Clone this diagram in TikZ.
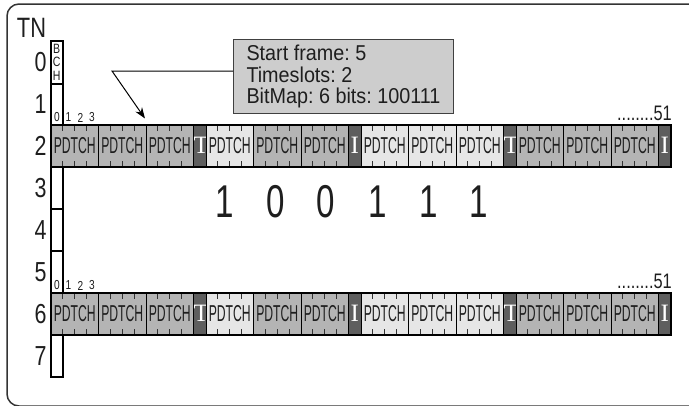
\documentclass[tikz,border=0pt]{standalone}
\usepackage{fontspec}
\setmainfont{Liberation Sans}
\newfontfamily\fCall[FakeStretch=0.92]{Liberation Sans}
\newfontfamily\fBlk[FakeStretch=0.53]{Liberation Sans}
\newfontfamily\fNum[FakeStretch=0.78]{Liberation Sans}
\newfontfamily\fBig[FakeStretch=0.72]{Liberation Sans}
\newfontfamily\fSerif{Liberation Serif}
\usetikzlibrary{arrows.meta,calc}
\definecolor{midg}{HTML}{B4B4B4}
\definecolor{lightg}{HTML}{E6E6E6}
\definecolor{darkg}{HTML}{5E5E5E}
\definecolor{callg}{HTML}{CDCDCD}
\definecolor{framec}{HTML}{333333}
\definecolor{inkc}{HTML}{1E1E1E}
\frenchspacing
\newcommand{\GBar}[2]{%
  \foreach \x/\s/\c/\t [count=\i] in {51/pd/midg/PDTCH, 98.5/pd/midg/PDTCH, 146/pd/midg/PDTCH, 193.5/ti/darkg/T,
      206/pd/lightg/PDTCH, 253.5/pd/midg/PDTCH, 301/pd/midg/PDTCH, 348.5/ti/darkg/I,
      361/pd/lightg/PDTCH, 408.5/pd/lightg/PDTCH, 456/pd/lightg/PDTCH, 503.5/ti/darkg/T,
      516/pd/midg/PDTCH, 563.5/pd/midg/PDTCH, 611/pd/midg/PDTCH, 658.5/ti/darkg/I}
    {\node[\s, fill=\c] (#1\i) at (\x,#2) {\t};}
  \draw[line width=2pt] (#11.north west) rectangle (#116.south east);
}
\begin{document}
\begin{tikzpicture}[x=1pt,y=-1pt,
  tick/.style={line width=0.9pt, black!80},
  pd/.style={draw=black, line width=1pt, minimum width=47.5pt, minimum height=41.5pt,
    inner sep=0pt, outer sep=0pt, anchor=north west, text=inkc,
    font=\fBlk\fontsize{23}{23}\selectfont,
    path picture={\foreach \q in {1,2,3}{
      \draw[tick] ($(path picture bounding box.north west)!\q/4!(path picture bounding box.north east)$) -- ++(0,5.5);
      \draw[tick] ($(path picture bounding box.south west)!\q/4!(path picture bounding box.south east)$) -- ++(0,-5.5);}}},
  ti/.style={draw=black, line width=1pt, minimum width=12.5pt, minimum height=41.5pt,
    inner sep=0pt, outer sep=0pt, anchor=north west, text=white,
    font=\fSerif\fontsize{25}{25}\selectfont},
  cell/.style={draw=black, line width=2pt, fill=white, minimum width=11.5pt,
    inner sep=0pt, outer sep=0pt, anchor=north west},
  rowlab/.style={font=\fNum\fontsize{27.5}{27.5}\selectfont, text=inkc, inner sep=0pt},
  sub/.style={font=\fNum\fontsize{13}{13}\selectfont, text=inkc, inner sep=0pt},
  big/.style={font=\fBig\fontsize{46}{46}\selectfont, text=inkc, inner sep=0pt},
  dots/.style={font=\fNum\fontsize{21}{21}\selectfont, text=inkc, inner sep=0pt, anchor=base east}
]
\useasboundingbox (0,0) rectangle (689,405);
\begin{scope}
  \clip (0,0) rectangle (689,405);
  \draw[framec, line width=1.5pt, rounded corners=12pt] (7,4) rectangle (760,406);
\end{scope}

% TN column
\node[cell, minimum height=42.5pt, align=center, text=inkc,
  font=\fNum\fontsize{13.5}{13.5}\selectfont] (c0) at (51,41) {B\\C\\H};
\node[cell, minimum height=41.5pt] (c1) at (51,83.5) {};
\node[cell, minimum height=42pt] (c3) at (51,166.5) {};
\node[cell, minimum height=42pt] (c4) at (51,208.5) {};
\node[cell, minimum height=42.5pt] (c5) at (51,250.5) {};
\node[cell, minimum height=41.5pt] (c7) at (51,335) {};

% bars
\GBar{a}{125}
\GBar{b}{293}

% labels
\node[font=\fNum\fontsize{28}{28}\selectfont, text=inkc, inner sep=0pt] (tn) at (31.5,28) {TN};
\foreach \r in {0,...,7}{\node[rowlab] (tn\r) at (40.5,62+42*\r) {\r};}

\foreach \n/\x in {0/57,1/68.5,2/80.5,3/92}{
  \node[sub] (sa\n) at (\x,117.5) {\n};
  \node[sub] (sb\n) at (\x,285.5) {\n};
}
\node[dots] (ea) at (672,120.5) {........51};
\node[dots] (eb) at (672,288.5) {........51};

% bitmap
\foreach \v/\x [count=\k] in {1/225,0/276,0/326,1/378,1/429,1/479}{
  \node[big] (d\k) at (\x,201.5) {\v};
}

% callout
\node[draw=black!75, fill=callg, line width=1pt, anchor=north west, inner xsep=13pt, inner ysep=0pt,
  minimum height=74pt, minimum width=202pt, align=left, text=inkc,
  font=\fCall\fontsize{21.5}{21.5}\selectfont] (call) at (233,39)
  {Start frame: 5\\Timeslots: 2\\BitMap: 6 bits: 100111};
\coordinate (bend) at (112,71);
\coordinate (tip) at (145,118.5);
\draw[line width=1pt, -{Stealth[length=11pt,width=8pt]}] (call.west |- bend) -- (bend) -- (tip);
\end{tikzpicture}
\end{document}
